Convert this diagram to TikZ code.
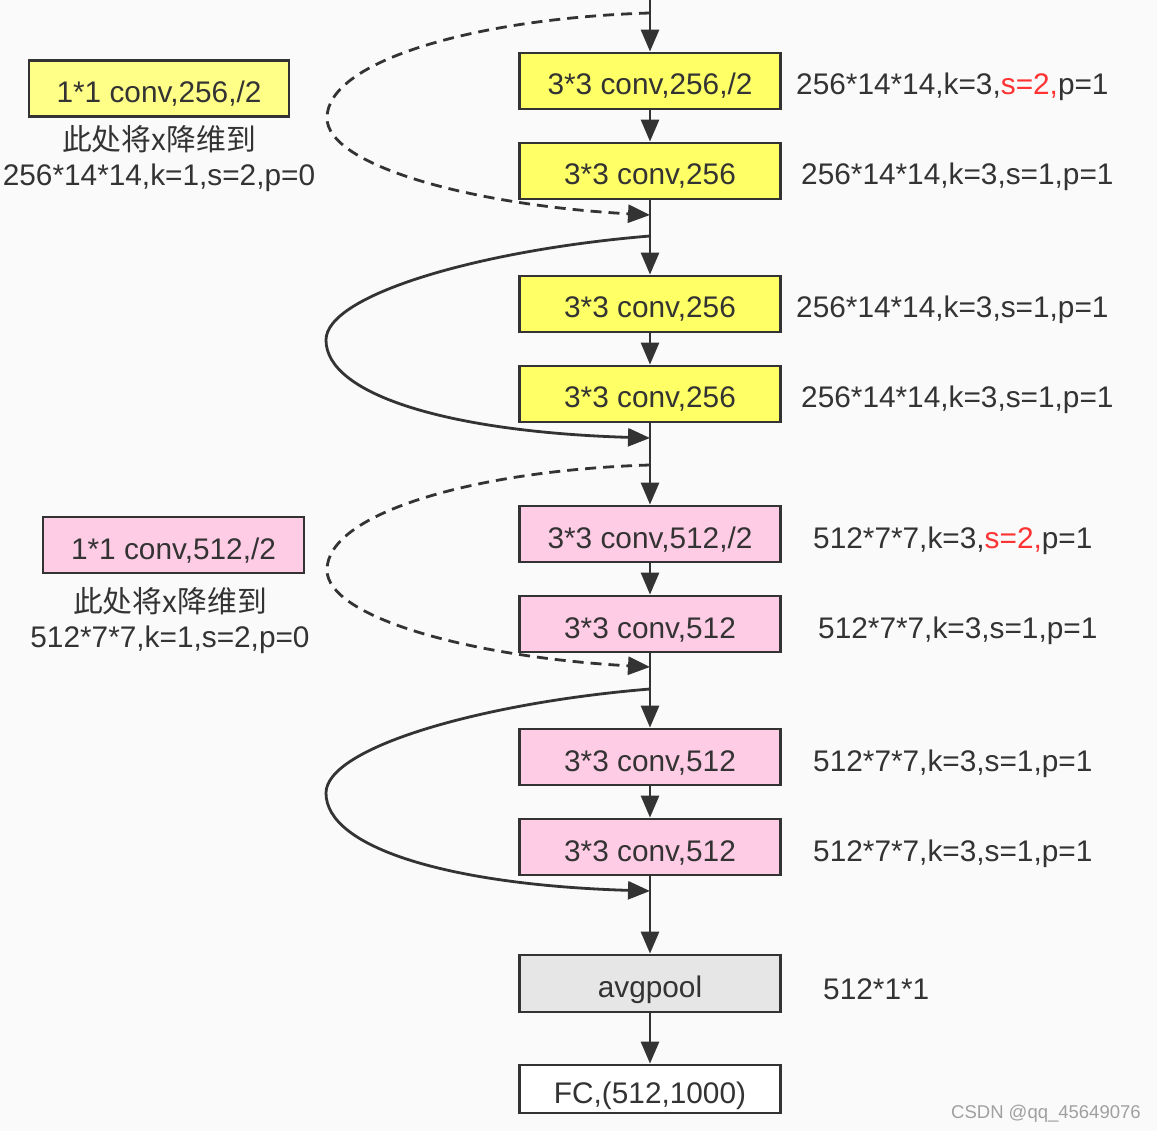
\documentclass[tikz,border=0pt]{standalone}
\usepackage{fontspec}
\setmainfont{Liberation Sans}
\newfontfamily\cjk{Noto Sans CJK SC}
\usetikzlibrary{arrows.meta}
\definecolor{ink}{HTML}{333333}
\definecolor{bg}{HTML}{FAFAFA}
\definecolor{yelmain}{HTML}{FFFF66}
\definecolor{yelside}{HTML}{FFFF88}
\definecolor{pinkbox}{HTML}{FFCCE6}
\definecolor{graybox}{HTML}{E6E6E6}
\definecolor{redtxt}{HTML}{FF3333}
\definecolor{wmark}{HTML}{A0A0A0}
\begin{document}
\begin{tikzpicture}[x=1pt,y=-1pt,
  box/.style={draw=ink, line width=2.8pt, minimum width=261pt, minimum height=56pt,
    inner sep=0pt, text height=28pt, text depth=0pt,
    font=\fontsize{29.8}{34}\selectfont, text=ink},
  ybox/.style={box, fill=yelmain},
  sybox/.style={box, fill=yelside},
  pbox/.style={box, fill=pinkbox},
  gbox/.style={box, fill=graybox, minimum height=57pt},
  wbox/.style={box, fill=white, minimum height=48pt},
  lbl/.style={inner sep=0pt, font=\fontsize{29.8}{34}\selectfont, text=ink},
  conn/.style={draw=ink, line width=2.8pt, -{Triangle[length=22pt,width=18pt]}},
  dconn/.style={conn, dash pattern=on 11pt off 7pt},
]
\useasboundingbox[fill=bg] (0,0) rectangle (1157,1131);

% main column
\node[ybox] (b1) at (650,81)  {3*3 conv,256,/2};
\node[ybox] (b2) at (650,171) {3*3 conv,256};
\node[ybox] (b3) at (650,304) {3*3 conv,256};
\node[ybox] (b4) at (650,394) {3*3 conv,256};
\node[pbox] (b5) at (650,534) {3*3 conv,512,/2};
\node[pbox] (b6) at (650,624) {3*3 conv,512};
\node[pbox] (b7) at (650,757) {3*3 conv,512};
\node[pbox] (b8) at (650,847) {3*3 conv,512};
\node[gbox] (avg) at (650,983.5) {avgpool};
\node[wbox] (fc) at (650,1089) {FC,(512,1000)};

% side boxes
\node[sybox, minimum width=260pt] (s1) at (159,88.5) {1*1 conv,256,/2};
\node[lbl, anchor=base] (s1a) at (159,151) {\cjk 此处将x降维到};
\node[lbl, anchor=base] (s1b) at (159,186) {256*14*14,k=1,s=2,p=0};
\node[pbox] (s2) at (173.5,545) {1*1 conv,512,/2};
\node[lbl, anchor=base] (s2a) at (170,612) {\cjk 此处将x降维到};
\node[lbl, anchor=base] (s2b) at (170,647) {512*7*7,k=1,s=2,p=0};

% right labels
\node[lbl, anchor=base west] (r1) at (796,95)  {256*14*14,k=3,\textcolor{redtxt}{s=2,}p=1};
\node[lbl, anchor=base west] (r2) at (801,185) {256*14*14,k=3,s=1,p=1};
\node[lbl, anchor=base west] (r3) at (796,318) {256*14*14,k=3,s=1,p=1};
\node[lbl, anchor=base west] (r4) at (801,408) {256*14*14,k=3,s=1,p=1};
\node[lbl, anchor=base west] (r5) at (813,548) {512*7*7,k=3,\textcolor{redtxt}{s=2,}p=1};
\node[lbl, anchor=base west] (r6) at (818,638) {512*7*7,k=3,s=1,p=1};
\node[lbl, anchor=base west] (r7) at (813,771) {512*7*7,k=3,s=1,p=1};
\node[lbl, anchor=base west] (r8) at (813,861) {512*7*7,k=3,s=1,p=1};
\node[lbl, anchor=base west] (r9) at (823,999) {512*1*1};

\node[inner sep=0pt, anchor=base west, font=\fontsize{18.5}{22}\selectfont, text=wmark] (wm) at (951,1118) {CSDN @qq\_45649076};

% coordinates
\coordinate (top) at (650,-3);
\coordinate (d1s) at (650,13);
\coordinate (d1e) at (650,215);
\coordinate (c1s) at (650,236);
\coordinate (c1e) at (650,438);
\coordinate (d2s) at (650,465);
\coordinate (d2e) at (650,667);
\coordinate (c2s) at (650,689);
\coordinate (c2e) at (650,891);

% vertical connectors
\draw[conn] (top) -- (b1.north);
\draw[conn] (b1.south) -- (b2.north);
\draw[conn] (b2.south) -- (b3.north);
\draw[conn] (b3.south) -- (b4.north);
\draw[conn] (b4.south) -- (b5.north);
\draw[conn] (b5.south) -- (b6.north);
\draw[conn] (b6.south) -- (b7.north);
\draw[conn] (b7.south) -- (b8.north);
\draw[conn] (b8.south) -- (avg.north);
\draw[conn] (avg.south) -- (fc.north);

% shortcut curves
\draw[dconn] (d1s) .. controls (480,18) and (327,60) .. (327,118)
  .. controls (327,165) and (470,205) .. (d1e);
\draw[conn] (c1s) .. controls (480,250) and (326,295) .. (326,340)
  .. controls (326,395) and (450,432) .. (c1e);
\draw[dconn] (d2s) .. controls (480,470) and (327,512) .. (327,570)
  .. controls (327,617) and (470,657) .. (d2e);
\draw[conn] (c2s) .. controls (480,703) and (326,748) .. (326,793)
  .. controls (326,848) and (450,885) .. (c2e);
\end{tikzpicture}
\end{document}
